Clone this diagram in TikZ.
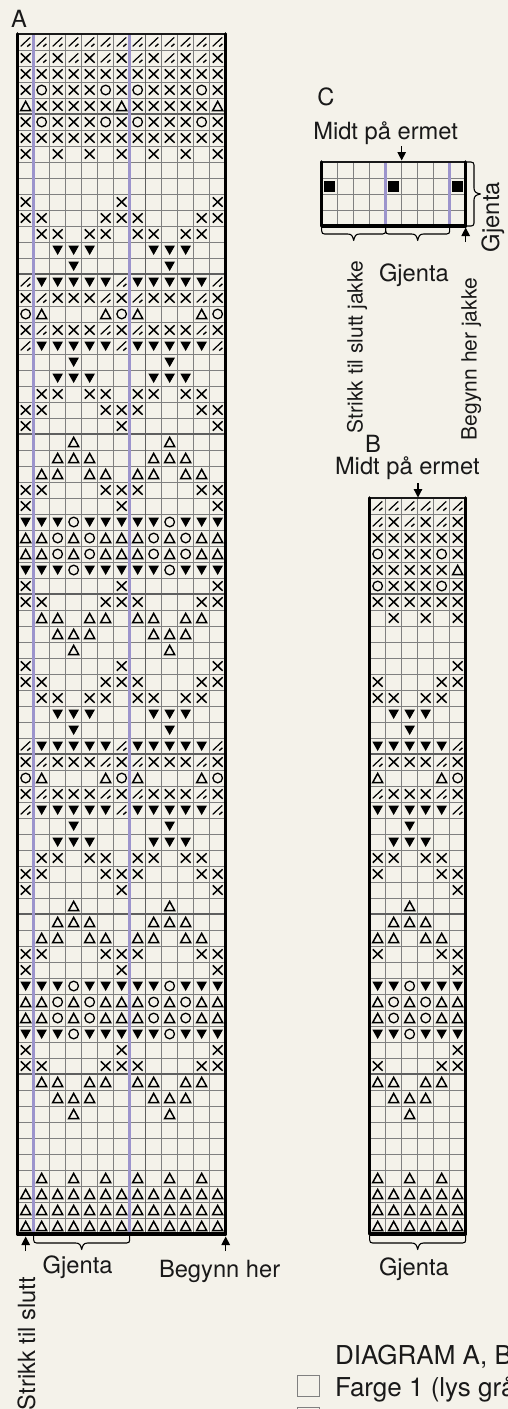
\documentclass[tikz,border=0pt]{standalone}
\usepackage{fontspec}
\setmainfont{TeX Gyre Heros}
\usetikzlibrary{arrows.meta}
\definecolor{paper}{RGB}{244,242,234}
\definecolor{stripe}{RGB}{156,148,204}
\definecolor{gridc}{RGB}{128,128,128}
\definecolor{gridh}{RGB}{95,95,95}
\newcount\colidx
\def\rowparse#1{\ifx#1\relax\else
  \if#1-\else
    \pgfmathsetmacro\px{\cx+8+16*\the\colidx}%
    \path pic at (\px,\py) {s#1};%
  \fi
  \advance\colidx by 1
  \expandafter\rowparse\fi}
% x0, y0, rows
\newcommand\chartsyms[3]{%
  \def\cx{#1}%
  \foreach \r [count=\j from 0] in {#3} {%
    \pgfmathsetmacro\py{#2+8+16*\j}%
    \colidx=0
    \expandafter\rowparse\r\relax
  }%
}
% x0, y0, cols, rows
\newcommand\chartgrid[4]{%
  \pgfmathsetmacro\xe{#1+16*#3}%
  \pgfmathsetmacro\ye{#2+16*#4}%
  \foreach \i in {1,...,#3} {\pgfmathsetmacro\qx{#1+16*\i}\draw[gridline] (\qx,#2) -- (\qx,\ye);}%
  \foreach \i in {1,...,#4} {\pgfmathsetmacro\qy{#2+16*\i}\draw[gridline] (#1,\qy) -- (\xe,\qy);}%
}
\newcommand\chartframe[4]{%
  \pgfmathsetmacro\xe{#1+16*#3}%
  \pgfmathsetmacro\ye{#2+16*#4}%
  \draw[frametop] (#1,#2) -- (\xe,#2);%
  \draw[framemain] (#1,#2) -- (#1,\ye) -- (\xe,\ye) -- (\xe,#2);%
}
\tikzset{
  gridline/.style={draw=gridc,line width=0.9pt},
  heavyline/.style={draw=gridh,line width=1.3pt},
  stripeline/.style={draw=stripe,line width=3.4pt},
  frametop/.style={draw=black!90,line width=2.8pt,line cap=round},
  framemain/.style={draw=black,line width=3.6pt,line join=round,line cap=round},
  symline/.style={draw=black,line width=1.5pt},
  sX/.pic={\draw[symline] (-4.9,-4.7) -- (4.9,4.7) (-4.9,4.7) -- (4.9,-4.7);},
  sO/.pic={\draw[draw=black,line width=1.3pt] (0,0) circle[radius=4.8];},
  sT/.pic={\draw[draw=black,line width=1.5pt,line join=miter] (-5,4.6) -- (0,-4.6) -- (5,4.6) -- cycle;},
  sV/.pic={\fill[black] (-5.3,-4.4) -- (5.3,-4.4) -- (0,5) -- cycle;},
  sS/.pic={\draw[draw=black,line width=1.2pt] (-5,4.4) -- (4.6,-4.6);\draw[draw=black,line width=1.4pt] (1.6,4.6) -- (4.8,1.8);},
  sB/.pic={\fill[black] (-5.5,-5) rectangle (5.5,6);},
  txt/.style={inner sep=0pt,outer sep=0pt,anchor=base west,text=black!90,font=\fontsize{23.7}{26}\selectfont},
  txtb/.style={inner sep=0pt,outer sep=0pt,anchor=base west,text=black!90,font=\fontsize{21}{24}\selectfont},
  txtc/.style={inner sep=0pt,outer sep=0pt,anchor=base west,text=black!90,font=\fontsize{26}{28}\selectfont},
  tick/.style={draw=black,line width=1.2pt,-{Stealth[length=8.5pt,width=8.5pt,inset=0pt]}},
  bracel/.style={draw=black,line width=1.1pt,line join=round},
  legendbox/.style={draw=gridc,line width=1pt},
  hbrace/.pic={
    \pgfmathsetmacro\bl{#1}\pgfmathsetmacro\bm{#1/2}
    \draw[bracel] (0,0) -- (0,4) .. controls (0,6) and (1,7) .. (3,7)
      -- ({\bm-6},7) .. controls ({\bm-2},7) and ({\bm-1},9) .. (\bm,13.5)
      .. controls ({\bm+1},9) and ({\bm+2},7) .. ({\bm+6},7)
      -- ({\bl-3},7) .. controls ({\bl-1},7) and (\bl,6) .. (\bl,4) -- (\bl,0);
  },
}
\begin{document}
\begin{tikzpicture}[x=1pt,y=-1pt]
\useasboundingbox (0,0) rectangle (508,1409);
\fill[paper] (0,0) rectangle (508,1409);
\clip (0,0) rectangle (508,1409);

% ---- chart A
\chartgrid{17.67}{34}{13}{75}
\foreach \k in {5,15,...,65} {\pgfmathsetmacro\qy{34+16*\k}\draw[heavyline] (17.67,\qy) -- (225.67,\qy);}
\draw[heavyline] (145.67,34) -- (145.67,1234);
\draw[stripeline] (33.67,34) -- (33.67,1234);
\draw[stripeline] (129.67,34) -- (129.67,1234);
\chartsyms{17.67}{34}{
SSSSSSSSSSSSS,XSXSXSXSXSXSX,XXXXXXXXXXXXX,XOXXXOXOXXXOX,TXXXXXTXXXXXT,XOXXXOXOXXXOX,XXXXXXXXXXXXX,X-X-X-X-X-X-X,-------------,-------------,
X-----X-----X,XX---XXX---XX,-XX-XX-XX-XX-,--VVV---VVV--,---V-----V---,SVVVVVSVVVVVS,XSXXXSXSXXXSX,OT---TOT---TO,XSXXXSXSXXXSX,SVVVVVSVVVVVS,
---V-----V---,--VVV---VVV--,-XX-XX-XX-XX-,XX---XXX---XX,X-----X-----X,---T-----T---,--TTT---TTT--,-TT-TT-TT-TT-,XX---XXX---XX,X-----X-----X,
VVVOVVVVVOVVV,TTOTOTTTOTOTT,TTOTOTTTOTOTT,VVVOVVVVVOVVV,X-----X-----X,XX---XXX---XX,-TT-TT-TT-TT-,--TTT---TTT--,---T-----T---,X-----X-----X,
XX---XXX---XX,-XX-XX-XX-XX-,--VVV---VVV--,---V-----V---,SVVVVVSVVVVVS,XSXXXSXSXXXSX,OT---TOT---TO,XSXXXSXSXXXSX,SVVVVVSVVVVVS,---V-----V---,
--VVV---VVV--,-XX-XX-XX-XX-,XX---XXX---XX,X-----X-----X,---T-----T---,--TTT---TTT--,-TT-TT-TT-TT-,XX---XXX---XX,X-----X-----X,VVVOVVVVVOVVV,
TTOTOTTTOTOTT,TTOTOTTTOTOTT,VVVOVVVVVOVVV,X-----X-----X,XX---XXX---XX,-TT-TT-TT-TT-,--TTT---TTT--,---T-----T---,-------------,-------------,
-------------,-T-T-T-T-T-T-,TTTTTTTTTTTTT,TTTTTTTTTTTTT,TTTTTTTTTTTTT}
\chartframe{17.67}{34}{13}{75}

% ---- chart B
\chartgrid{369.67}{498}{6}{46}
\foreach \k in {6,16,26,36} {\pgfmathsetmacro\qy{498+16*\k}\draw[heavyline] (369.67,\qy) -- (465.67,\qy);}
\chartsyms{369.67}{498}{
SSSSSS,SXSXSX,XXXXXX,OXXXOX,XXXXXT,OXXXOX,XXXXXX,-X-X-X,------,------,
-----X,X---XX,XX-XX-,-VVV--,--V---,VVVVVS,SXXXSX,T---TO,SXXXSX,VVVVVS,
--V---,-VVV--,XX-XX-,X---XX,-----X,--T---,-TTT--,TT-TT-,X---XX,-----X,
VVOVVV,TOTOTT,TOTOTT,VVOVVV,-----X,X---XX,TT-TT-,-TTT--,--T---,------,
------,------,T-T-T-,TTTTTT,TTTTTT,TTTTTT}
\chartframe{369.67}{498}{6}{46}

% ---- chart C
\chartgrid{321.67}{162}{9}{4}
\draw[stripeline] (385.67,162) -- (385.67,226);
\draw[stripeline] (449.67,162) -- (449.67,226);
\chartsyms{321.67}{162}{---------,B---B---B,---------,---------}
\chartframe{321.67}{162}{9}{4}

% ---- braces
\path pic at (33.67,1236) {hbrace=96};
\path pic at (369.67,1236) {hbrace=96};
\path pic at (321.67,227) {hbrace=64};
\path pic at (385.67,227) {hbrace=64};
\path pic[rotate=90] at (467,226) {hbrace=64};

% ---- arrows
\coordinate (a1s) at (25.67,1251); \coordinate (a1e) at (25.67,1236.5);
\coordinate (a2s) at (225.67,1251); \coordinate (a2e) at (225.67,1236.5);
\coordinate (c1s) at (401.67,146); \coordinate (c1e) at (401.67,160.5);
\coordinate (c2s) at (465.67,242); \coordinate (c2e) at (465.67,227.5);
\coordinate (b1s) at (418,483); \coordinate (b1e) at (418,497.5);
\draw[tick] (a1s) -- (a1e);
\draw[tick] (a2s) -- (a2e);
\draw[tick] (c1s) -- (c1e);
\draw[tick] (c2s) -- (c2e);
\draw[tick] (b1s) -- (b1e);

% ---- labels
\node[txt] (labA) at (11,27) {A};
\node[txt] (gjA) at (42.7,1273) {Gjenta};
\node[txt] (begA) at (159,1277) {Begynn her};
\node[txt,rotate=90] (strA) at (35,1410) {Strikk til slutt};
\node[txt] (labC) at (317.3,105) {C};
\node[txt] (midC) at (313.3,139) {Midt på ermet};
\node[txt] (gjC) at (379,281) {Gjenta};
\node[txt,rotate=90] (gjCr) at (499,252) {Gjenta};
\node[txtb,rotate=90] (strC) at (362.7,433) {Strikk til slutt jakke};
\node[txtb,rotate=90] (begC) at (476.7,440) {Begynn her jakke};
\node[txt] (labB) at (365,452) {B};
\node[txt] (midB) at (335,474) {Midt på ermet};
\node[txt] (gjB) at (379,1275) {Gjenta};
\node[txtc] (diag) at (335,1364) {DIAGRAM A, B};
\node[txtc] (far1) at (335,1396) {Farge 1 (lys grå};
\draw[legendbox] (297.5,1375.7) rectangle (319.3,1396.7);
\draw[legendbox] (297.5,1407.7) rectangle (319.3,1428);
\end{tikzpicture}
\end{document}
